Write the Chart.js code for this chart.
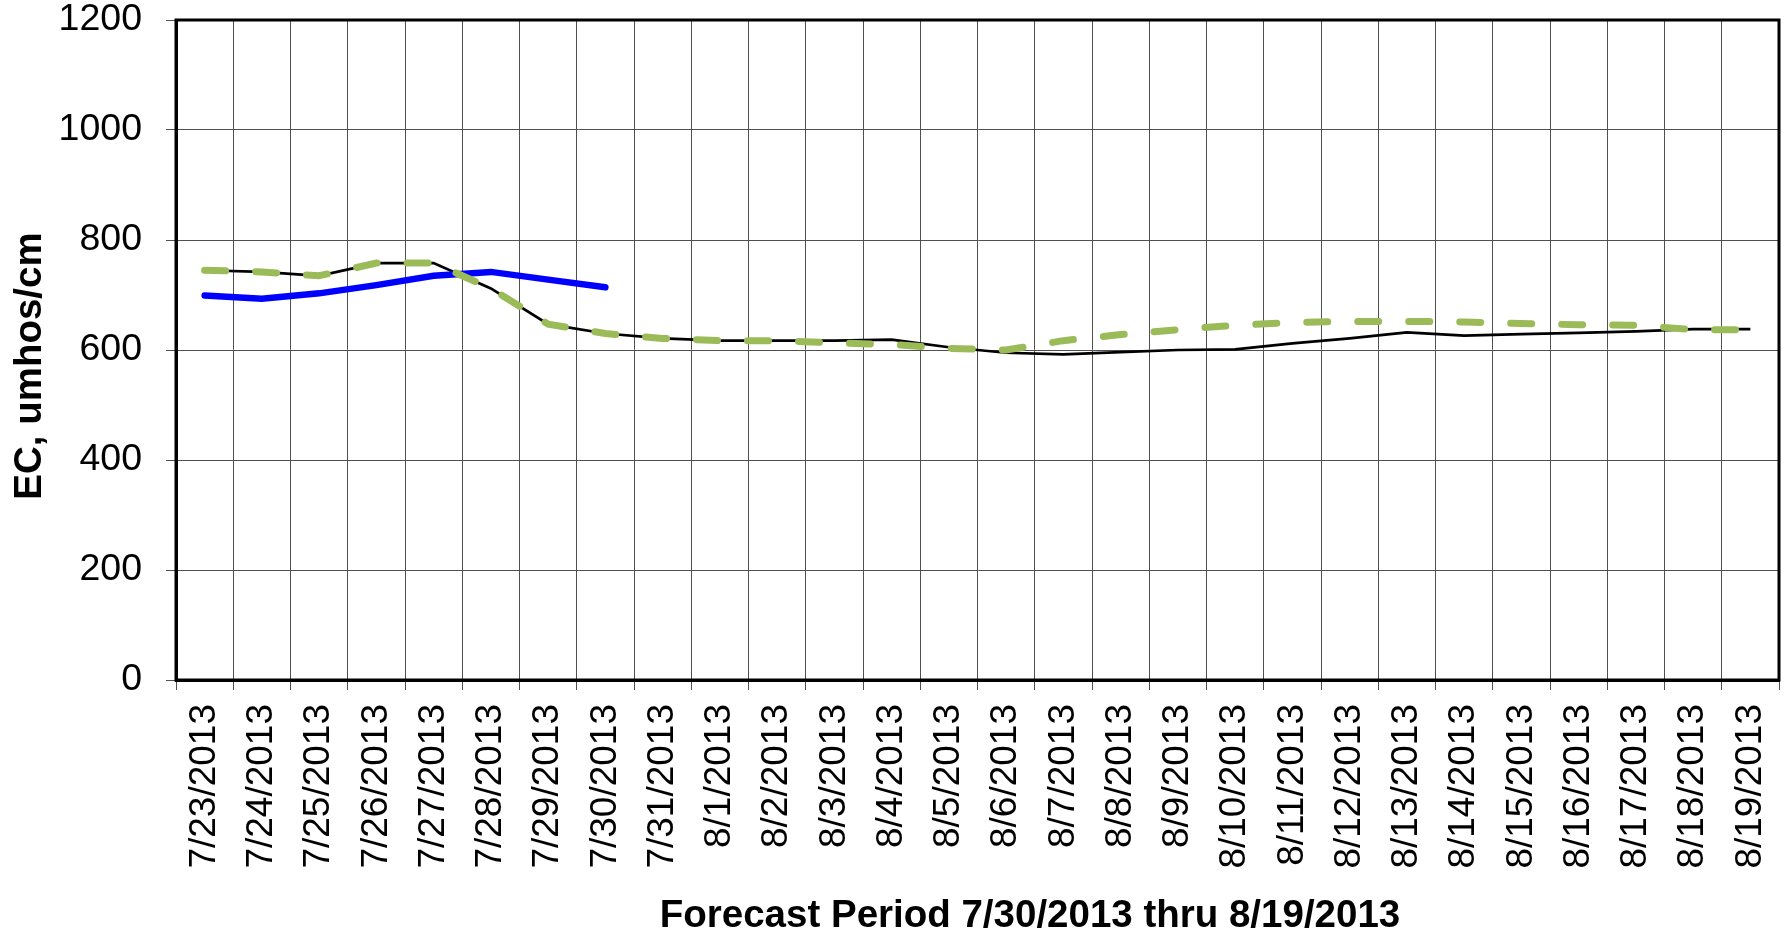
<!DOCTYPE html>
<html>
<head>
<meta charset="utf-8">
<script src="https://cdn.jsdelivr.net/npm/chart.js@4.4.0/dist/chart.umd.min.js"></script>
<style>
    body { margin: 0; background: #fff; }
    canvas { display: block; }
</style>
</head>
<body>
<canvas id="myChart" width="1784" height="938"></canvas>
<script>
const dates = ['7/23/2013','7/24/2013','7/25/2013','7/26/2013','7/27/2013','7/28/2013','7/29/2013',
    '7/30/2013','7/31/2013','8/1/2013','8/2/2013','8/3/2013','8/4/2013','8/5/2013','8/6/2013',
    '8/7/2013','8/8/2013','8/9/2013','8/10/2013','8/11/2013','8/12/2013','8/13/2013','8/14/2013',
    '8/15/2013','8/16/2013','8/17/2013','8/18/2013','8/19/2013'];

const observed = [699, 693, 703, 718, 735, 742, 728, 714];

const forecastA = [745, 742, 735, 758, 758, 712, 647, 630, 621, 617, 617, 617, 619, 605,
    595, 592, 596, 600, 601, 612, 621, 632, 626, 629, 631, 634, 638, 638];

const forecastB = [745, 742, 735, 758, 758, 712, 647, 630, 621, 617, 617, 613, 610, 603,
    600, 617, 628, 637, 645, 650, 652, 652, 651, 648, 646, 645, 637, 637];

const yTicks = [0, 200, 400, 600, 800, 1000, 1200];

const xTitle = 'Forecast Period 7/30/2013 thru 8/19/2013';
const yTitle = 'EC, umhos/cm';

const FONT = "'Liberation Sans', Arial, sans-serif";
Chart.defaults.font.family = FONT;
Chart.defaults.color = '#000';

// black box round the plot area, and the two axis titles
// (they sit a bit off-centre in the original, so draw them here)
const frame = {
    id: 'frame',
    afterDraw(chart) {
        const {ctx, chartArea: a} = chart;
        ctx.save();
        ctx.strokeStyle = '#000';
        ctx.lineWidth = 3;
        ctx.strokeRect(a.left, a.top, a.right - a.left, a.bottom - a.top);

        ctx.fillStyle = '#000';
        ctx.font = 'bold 38.5px ' + FONT;
        ctx.textAlign = 'center';
        ctx.textBaseline = 'middle';
        ctx.fillText(xTitle, 1030, 916);

        ctx.translate(30, 366);
        ctx.rotate(-Math.PI / 2);
        ctx.fillText(yTitle, 0, 0);
        ctx.restore();
    }
};

const ctx = document.getElementById('myChart').getContext('2d');
const myChart = new Chart(ctx, {
    type: 'line',
    data: {
        labels: dates,
        datasets: [
            {
                data: forecastB,
                borderColor: '#9BBB59',
                borderWidth: 7,
                borderDash: [21, 30],
                borderCapStyle: 'round',
                pointRadius: 0,
                tension: 0
            },
            {
                data: observed,
                borderColor: '#0000FF',
                borderWidth: 6.5,
                borderCapStyle: 'round',
                pointRadius: 0,
                tension: 0
            },
            {
                data: forecastA,
                borderColor: '#000',
                borderWidth: 2.75,
                pointRadius: 0,
                tension: 0
            }
        ]
    },
    options: {
        responsive: false,
        animation: false,
        events: [],
        layout: {
            padding: { top: 20, right: 5, bottom: 0, left: 0 }
        },
        scales: {
            x: {
                offset: true,
                grid: {
                    offset: true,
                    color: '#505050',
                    lineWidth: 1,
                    tickLength: 10
                },
                border: { color: '#000', width: 3 },
                ticks: {
                    autoSkip: false,
                    minRotation: 90,
                    maxRotation: 90,
                    padding: 14,
                    font: { size: 37 }
                },
                afterFit: (scale) => {
                    scale.height = 258;
                    scale.paddingLeft = 0;
                    scale.paddingRight = 0;
                }
            },
            y: {
                min: 0,
                max: 1200,
                afterBuildTicks: (scale) => { scale.ticks = yTicks.map(v => ({ value: v })); },
                grid: {
                    color: '#505050',
                    lineWidth: 1,
                    tickLength: 10
                },
                border: { color: '#000', width: 3 },
                ticks: {
                    padding: 24,
                    font: { size: 37.5 },
                    callback: (v) => String(v)
                },
                afterFit: (scale) => {
                    scale.width = 176;
                    scale.paddingTop = 0;
                    scale.paddingBottom = 0;
                }
            }
        },
        plugins: {
            legend: { display: false },
            tooltip: { enabled: false }
        }
    },
    plugins: [frame]
});
</script>
</body>
</html>
